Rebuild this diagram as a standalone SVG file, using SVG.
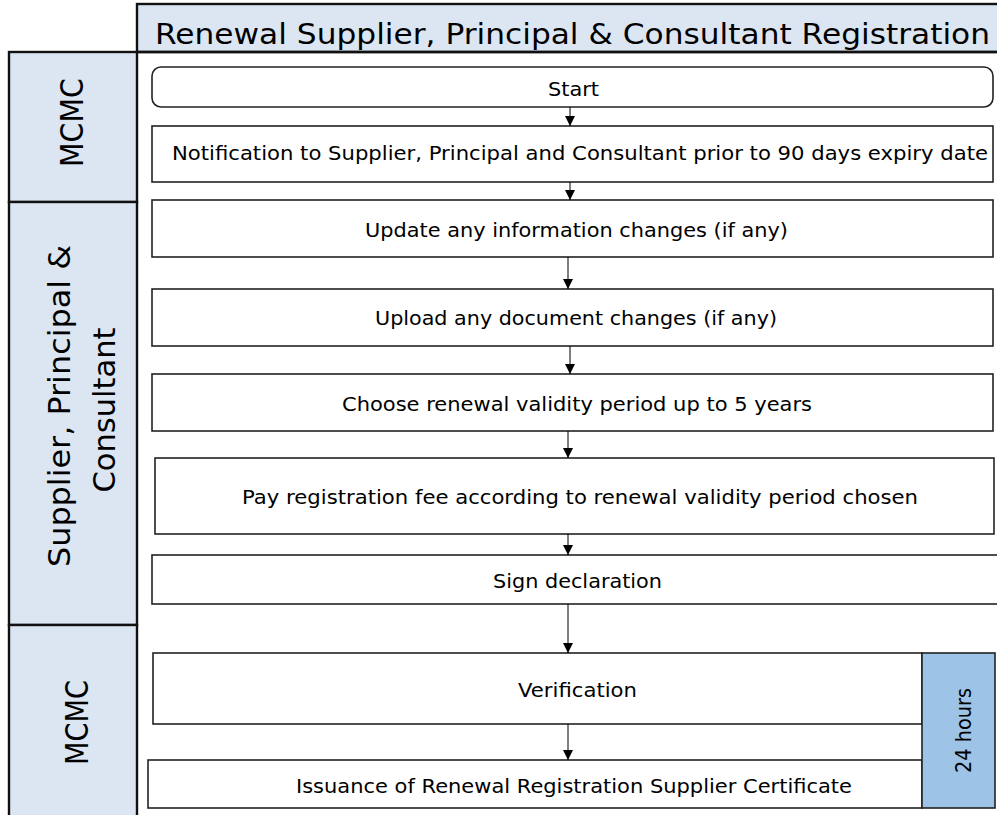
<svg xmlns="http://www.w3.org/2000/svg" width="997" height="815" viewBox="0 0 997 815">
<defs>
<style>
.lane{fill:#dce6f2;stroke:#111;stroke-width:2.4}
.box{fill:#fff;stroke:#222;stroke-width:1.6}
.t{font-family:"DejaVu Sans","Liberation Sans",sans-serif;fill:#000;text-anchor:middle}
.bt{font-size:20px}
.ln{stroke:#000;stroke-width:1;fill:none}
</style>
<marker id="ah" viewBox="0 0 10 10" refX="10" refY="5" markerWidth="10" markerHeight="10" markerUnits="userSpaceOnUse" orient="auto">
<path d="M0,0 L10,5 L0,10 Z" fill="#000"/>
</marker>
</defs>
<rect width="997" height="815" fill="#fff"/>
<g id="title">
<rect class="lane" x="137" y="4" width="862" height="48"/>
<text class="t" x="572.5" y="44" font-size="28" textLength="835" lengthAdjust="spacingAndGlyphs">Renewal Supplier, Principal &amp; Consultant Registration</text>
</g>
<g id="lane-mcmc-1">
<rect class="lane" x="9" y="52" width="128" height="150"/>
<text class="t" x="83" y="122.5" font-size="32" transform="rotate(-90 83 122.5)" textLength="89" lengthAdjust="spacingAndGlyphs">MCMC</text>
</g>
<g id="lane-supplier">
<rect class="lane" x="9" y="202" width="128" height="423"/>
<text class="t" x="70" y="406" font-size="31" transform="rotate(-90 70 406)" textLength="322" lengthAdjust="spacingAndGlyphs">Supplier, Principal &amp;</text>
<text class="t" x="115" y="410" font-size="31" transform="rotate(-90 115 410)" textLength="165" lengthAdjust="spacingAndGlyphs">Consultant</text>
</g>
<g id="lane-mcmc-2">
<rect class="lane" x="9" y="625" width="128" height="200"/>
<text class="t" x="88" y="722.5" font-size="32" transform="rotate(-90 88 722.5)" textLength="85" lengthAdjust="spacingAndGlyphs">MCMC</text>
</g>
<line x1="137" y1="52" x2="997" y2="52" stroke="#111" stroke-width="2.4"/>
<g id="start">
<rect class="box" x="152" y="67" width="841" height="40" rx="9"/>
<text class="t bt" x="573.5" y="96" textLength="51" lengthAdjust="spacingAndGlyphs">Start</text>
</g>
<g id="notification">
<rect class="box" x="152" y="126" width="841" height="56"/>
<text class="t bt" x="580" y="160" textLength="816" lengthAdjust="spacingAndGlyphs">Notification to Supplier, Principal and Consultant prior to 90 days expiry date</text>
</g>
<g id="update">
<rect class="box" x="152" y="200" width="841" height="57"/>
<text class="t bt" x="576.5" y="237" textLength="423" lengthAdjust="spacingAndGlyphs">Update any information changes (if any)</text>
</g>
<g id="upload">
<rect class="box" x="152" y="289" width="841" height="57"/>
<text class="t bt" x="576" y="325" textLength="402" lengthAdjust="spacingAndGlyphs">Upload any document changes (if any)</text>
</g>
<g id="choose">
<rect class="box" x="152" y="374" width="841" height="57"/>
<text class="t bt" x="577" y="411" textLength="470" lengthAdjust="spacingAndGlyphs">Choose renewal validity period up to 5 years</text>
</g>
<g id="pay">
<rect class="box" x="155" y="458" width="839" height="76"/>
<text class="t bt" x="580" y="504" textLength="676" lengthAdjust="spacingAndGlyphs">Pay registration fee according to renewal validity period chosen</text>
</g>
<g id="sign">
<rect class="box" x="152" y="555" width="846" height="49"/>
<text class="t bt" x="577.5" y="588" textLength="169" lengthAdjust="spacingAndGlyphs">Sign declaration</text>
</g>
<g id="verification">
<rect class="box" x="153" y="653" width="769" height="71"/>
<text class="t bt" x="577.5" y="697" textLength="119" lengthAdjust="spacingAndGlyphs">Verification</text>
</g>
<g id="issuance">
<rect class="box" x="148" y="760" width="774" height="48"/>
<text class="t bt" x="574" y="793" textLength="556" lengthAdjust="spacingAndGlyphs">Issuance of Renewal Registration Supplier Certificate</text>
</g>
<g id="hours">
<rect x="922" y="653" width="73" height="155" fill="#9dc3e6" stroke="#222" stroke-width="1.6"/>
<text class="t" x="971" y="730.5" font-size="22" transform="rotate(-90 971 730.5)" textLength="85" lengthAdjust="spacingAndGlyphs">24 hours</text>
</g>
<g id="connectors">
<line class="ln" x1="570" y1="107" x2="570" y2="126" marker-end="url(#ah)"/>
<line class="ln" x1="570" y1="182" x2="570" y2="200" marker-end="url(#ah)"/>
<line class="ln" x1="568" y1="257" x2="568" y2="289" marker-end="url(#ah)"/>
<line class="ln" x1="570" y1="346" x2="570" y2="374" marker-end="url(#ah)"/>
<line class="ln" x1="568" y1="431" x2="568" y2="458" marker-end="url(#ah)"/>
<line class="ln" x1="568" y1="534" x2="568" y2="555" marker-end="url(#ah)"/>
<line class="ln" x1="568" y1="604" x2="568" y2="653" marker-end="url(#ah)"/>
<line class="ln" x1="568" y1="724" x2="568" y2="760" marker-end="url(#ah)"/>
</g>
</svg>
